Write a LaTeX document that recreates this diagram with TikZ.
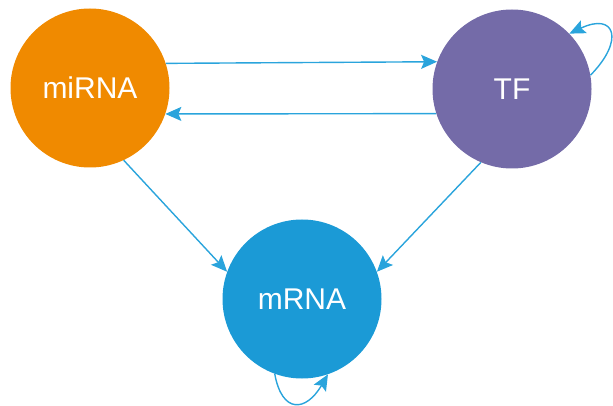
\documentclass[tikz,border=0pt]{standalone}
\usepackage{fontspec}
\setmainfont{Liberation Sans}
\usetikzlibrary{arrows.meta}
\definecolor{mirnaorange}{HTML}{F08A00}
\definecolor{tfpurple}{HTML}{746BA8}
\definecolor{mrnablue}{HTML}{1B9AD6}
\definecolor{linkblue}{HTML}{2AA4DC}
\tikzset{
  molecule/.style={circle,inner sep=0pt,minimum size=159pt,text=white,font=\fontsize{30}{30}\selectfont},
  link/.style={draw=linkblue,line width=1.4pt,arrows={-Stealth[length=16pt,width=14pt,inset=3pt]}}}
\begin{document}
\begin{tikzpicture}[x=1pt,y=-1pt]
\useasboundingbox (0,0) rectangle (613,406);
\node[molecule,fill=mirnaorange] (mirna) at (90,88) {miRNA};
\node[molecule,fill=tfpurple] (tf) at (512,89) {TF};
\node[molecule,fill=mrnablue] (mrna) at (302,299) {mRNA};
% regulation between miRNA and TF
\draw[link] (mirna.{asin(25/79.5)}) -- (tf.{180-asin(26/79.5)});
\draw[link] (tf.{180+asin(25/79.5)}) -- (mirna.{-asin(26/79.5)});
% regulation of the target mRNA
\draw[link] (mirna.-65) -- (mrna.160);
\draw[link] (tf.-113) -- (mrna.20);
% self loops
\draw[link] (tf.10) .. controls (625,40) and (615,12) .. (tf.44);
\draw[link] (mrna.-110) .. controls (282,414) and (306,412) .. (mrna.-71);
\end{tikzpicture}
\end{document}
